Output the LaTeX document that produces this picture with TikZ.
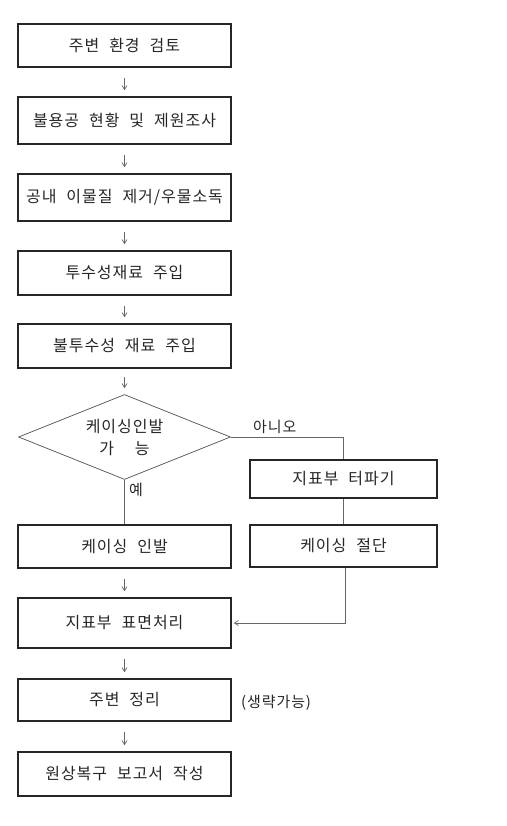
\documentclass[tikz,border=0pt]{standalone}
\usepackage{fontspec}
\newfontfamily\kr[WordSpace={2.2},LetterSpace=6]{Noto Sans CJK KR}
\usetikzlibrary{shapes.geometric,arrows.meta}
\begin{document}
\begin{tikzpicture}[x=1pt,y=-1pt,
  box/.style={draw=black!85,line width=1.6pt,minimum width=213pt,inner sep=0pt,font=\kr\fontsize{16}{18}\selectfont,text=black!85},
  sbox/.style={box,minimum width=187pt},
  conn/.style={draw=black!60,line width=0.7pt},
  arr/.style={conn,-{Straight Barb[length=4pt,width=5pt]}},
  lbl/.style={font=\kr\fontsize{15}{17}\selectfont,text=black!85,inner sep=0pt}]
\useasboundingbox (0,0) rectangle (506,826);
\node[box,minimum height=43pt] (b1) at (124.5,45.5) {주변 환경 검토};
\node[box,minimum height=47pt] (b2) at (124.5,120.5) {불용공 현황 및 제원조사};
\node[box,minimum height=47pt] (b3) at (124.5,197.5) {공내 이물질 제거/우물소독};
\node[box,minimum height=44pt] (b4) at (124.5,273) {투수성재료 주입};
\node[box,minimum height=44pt] (b5) at (124.5,346) {불투수성 재료 주입};
\node[diamond,draw=black!70,line width=0.7pt,minimum width=212pt,minimum height=85pt,inner sep=0pt] (d) at (124.5,437) {};
\node[font=\kr\fontsize{16}{22}\selectfont,text=black!85,align=center,inner sep=0pt] (dt) at (d.center) {케이싱인발\\가\hspace{1.3em}능};
\node[sbox,minimum height=38pt] (n1) at (343.5,479) {지표부 터파기};
\node[sbox,minimum height=42pt] (n2) at (343.5,546) {케이싱 절단};
\node[box,minimum height=43pt] (y1) at (124.5,546.5) {케이싱 인발};
\node[box,minimum height=50pt] (b6) at (124.5,623) {지표부 표면처리};
\node[box,minimum height=42pt] (b7) at (124.5,700) {주변 정리};
\node[box,minimum height=44pt] (b8) at (124.5,774) {원상복구 보고서 작성};
\node[lbl,anchor=west] (opt) at (241,703) {(생략가능)};
\node[lbl,anchor=west] (no) at (253,427) {아니오};
\node[lbl,anchor=west] (yes) at (129,490) {예};
\coordinate (c2) at (345,623);
\foreach \a/\b in {b1/b2,b2/b3,b3/b4,b4/b5,y1/b6,b6/b7,b7/b8}
  \draw[arr,shorten <=10pt,shorten >=6pt] (\a.south) -- (\b.north);
\draw[arr,shorten <=8pt,shorten >=6pt] (b5.south) -- (d.north);
\draw[conn] (d.east) -| (n1.north);
\draw[conn] (n1.south) -- (n2.north);
\draw[conn] (d.south) -- (y1.north);
\draw[arr,shorten >=2pt] (n2.south -| c2) -- (c2) -- (b6.east);
\end{tikzpicture}
\end{document}
